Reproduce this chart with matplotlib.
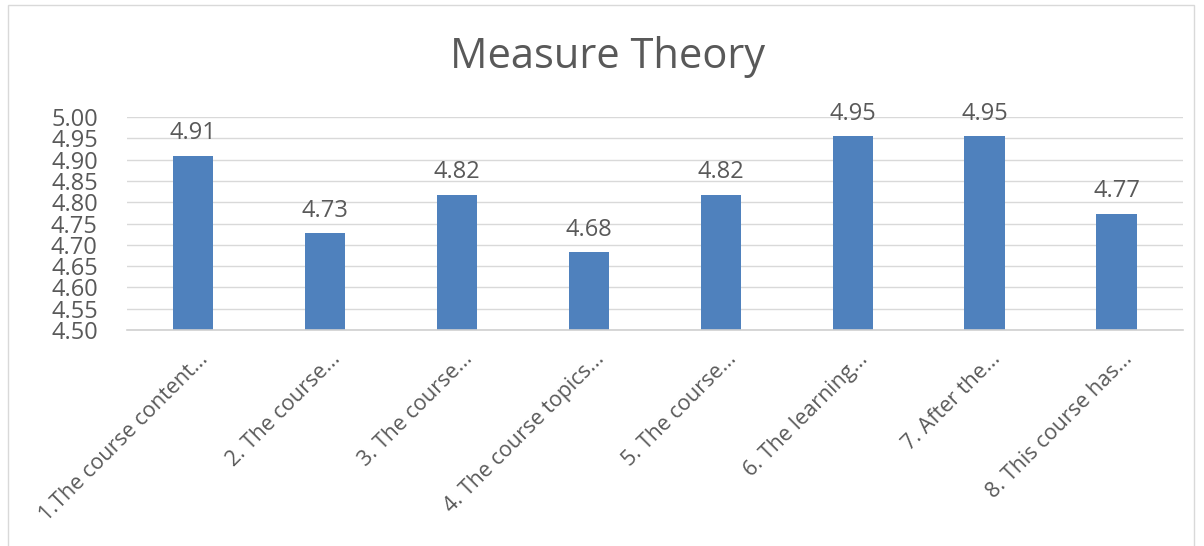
import numpy as np
import matplotlib.pyplot as plt
import matplotlib.transforms as mtrans
from matplotlib.patches import Rectangle

# Survey averages (22 responses)
questions = ['1.The course content...', '2. The course...', '3. The course...',
             '4. The course topics...', '5. The course...', '6. The learning...',
             '7. After the...', '8. This course has...']
scores = [4.909, 4.727, 4.818, 4.682, 4.818, 4.955, 4.955, 4.773]
score_labels = ['4.91', '4.73', '4.82', '4.68', '4.82', '4.95', '4.95', '4.77']
y_ticks = [4.50, 4.55, 4.60, 4.65, 4.70, 4.75, 4.80, 4.85, 4.90, 4.95, 5.00]

plt.rcParams['font.family'] = ['Open Sans', 'DejaVu Sans']
grey = '#595959'

fig = plt.figure(figsize=(12.04, 5.46), dpi=100)
ax = fig.add_axes([0.1055, 0.3956, 0.877, 0.3901])

x = np.arange(len(questions))
ax.bar(x, scores, width=0.31, color='#4f81bd', zorder=3)
for i in range(len(scores)):
    ax.text(x[i], scores[i] + 0.025, score_labels[i], ha='center', va='bottom',
            fontsize=17, color=grey)

ax.set_xlim(-0.5, len(questions) - 0.5)
ax.set_ylim(4.5, 5.0)
ax.set_yticks(y_ticks)
ax.set_yticklabels(['%.2f' % v for v in y_ticks], fontsize=17, color=grey)
ax.set_xticks(x)
ax.set_xticklabels([])

# category labels, rotated, drawn below the axis
offset = mtrans.ScaledTranslation(16 / 100, -30 / 100, fig.dpi_scale_trans)
for i in range(len(questions)):
    ax.text(x[i], 0, questions[i], transform=ax.get_xaxis_transform() + offset,
            rotation=45, rotation_mode='anchor', ha='right', va='baseline',
            fontsize=15.5, color=grey)

ax.tick_params(axis='both', length=0)
ax.tick_params(axis='y', pad=21)
ax.yaxis.grid(True, color='#d9d9d9', linewidth=1, zorder=0)
for s in ['top', 'right', 'left']:
    ax.spines[s].set_visible(False)
ax.spines['bottom'].set_color('#d0d0d0')
ax.spines['bottom'].set_linewidth(1.2)
ax.spines['bottom'].set_zorder(4)

fig.text(0.505, 0.895, 'Measure Theory', ha='center', va='center', fontsize=30, color=grey)

# chart border
fig.patches.append(Rectangle((0.007, -0.05), 0.985, 1.04, transform=fig.transFigure,
                             fill=False, edgecolor='#d9d9d9', linewidth=1))

fig.savefig('out.png', dpi=100)
